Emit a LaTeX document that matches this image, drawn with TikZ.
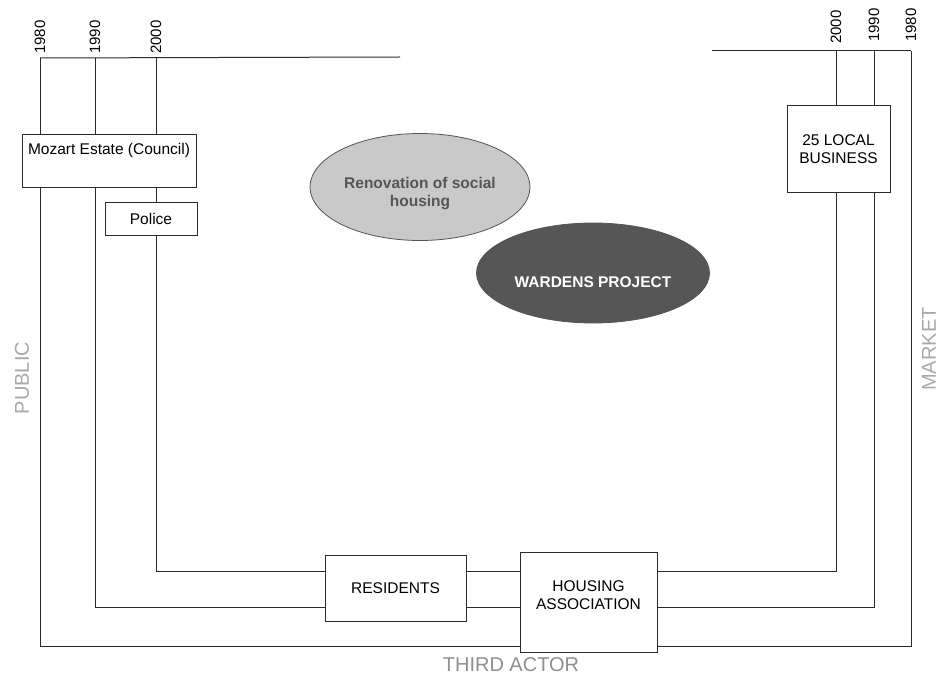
\documentclass[tikz,border=0pt]{standalone}
\usepackage{fontspec}
\setmainfont{Liberation Sans}
\usetikzlibrary{shapes.geometric}
\definecolor{inkline}{HTML}{2A2A2A}
\definecolor{lightfill}{HTML}{C9C9C9}
\definecolor{darkfill}{HTML}{565656}
\definecolor{sectorgray}{HTML}{A8A8A8}
\definecolor{ovaltext}{HTML}{555555}
\tikzset{
  link/.style={draw=inkline, line width=1pt},
  actor/.style={draw=inkline, line width=1pt, fill=white, align=center, inner sep=0pt,
    font=\fontsize{15.5}{18}\selectfont},
  year/.style={rotate=90, anchor=west, inner sep=0pt, font=\fontsize{15}{17}\selectfont},
  sector/.style={text=sectorgray, inner sep=0pt, font=\fontsize{20}{22}\selectfont},
  project/.style={ellipse, draw=inkline!80, line width=0.8pt, inner sep=0pt},
  projtext/.style={align=center, inner sep=0pt, font=\bfseries\fontsize{15.5}{18}\selectfont}
}
\begin{document}
\begin{tikzpicture}[x=1pt,y=-1pt]
\useasboundingbox (0,0) rectangle (942,679);

% horizontal levels of the three periods
\coordinate (y00) at (0,571);
\coordinate (y90) at (0,607);
\coordinate (y80) at (0,646);

% top ends of the time lines
\coordinate (L80) at (40,58);
\coordinate (L90) at (95,58);
\coordinate (L00) at (156,58);
\coordinate (Lend) at (400,57);
\coordinate (R00) at (836,51);
\coordinate (R90) at (874,51);
\coordinate (R80) at (911,51);
\coordinate (Rstart) at (712,51);

% year labels
\node[year] (yl80) at (L80 |- 0,54) {1980};
\node[year] (yl90) at (L90 |- 0,54) {1990};
\node[year] (yl00) at (L00 |- 0,54) {2000};
\node[year] (yr00) at (R00 |- 0,44) {2000};
\node[year] (yr90) at (R90 |- 0,42) {1990};
\node[year] (yr80) at (R80 |- 0,42) {1980};

% actors
\node[actor, minimum width=174pt, minimum height=53pt,
  label={[anchor=north, inner sep=0pt, yshift=-9pt, font=\fontsize{15.5}{18}\selectfont]north:Mozart Estate (Council)}]
  (moz) at (109,161.5) {};
\node[actor, minimum width=92pt, minimum height=32pt] (police) at (151,219) {Police};
\node[actor, minimum width=103pt, minimum height=87pt] (biz) at (838.5,149.5) {25 LOCAL\\BUSINESS};
\node[actor, minimum width=141pt, minimum height=66pt] (res) at (395.5,588) {RESIDENTS};
\node[actor, minimum width=137pt, minimum height=100pt, text depth=14pt] (hous) at (588.5,602) {HOUSING\\ASSOCIATION};

% projects
\node[project, fill=lightfill, minimum width=220pt, minimum height=107pt] (renov) at (420,187) {};
\node[projtext, text=ovaltext] (renovtxt) at ([yshift=-7pt]renov.center) {Renovation of social\\housing};
\node[project, fill=darkfill, minimum width=233pt, minimum height=100pt] (wardens) at (593,273) {};
\node[projtext, text=white] (wardenstxt) at ([yshift=-9pt]wardens.center) {WARDENS PROJECT};

% public side
\draw[link] (L80) -- (Lend);
\draw[link] (L80) -- (L80 |- moz.north);
\draw[link] (L90) -- (L90 |- moz.north);
\draw[link] (L00) -- (L00 |- moz.north);
\draw[link] (L00 |- moz.south) -- (L00 |- police.north);
\draw[link] (L00 |- police.south) -- (L00 |- y00) -- (res.west |- y00);
\draw[link] (L90 |- moz.south) -- (L90 |- y90) -- (res.west |- y90);
\draw[link] (L80 |- moz.south) -- (L80 |- y80) -- (hous.west |- y80);

% between residents and housing association
\draw[link] (res.east |- y00) -- (hous.west |- y00);
\draw[link] (res.east |- y90) -- (hous.west |- y90);

% market side
\draw[link] (Rstart) -- (R80);
\draw[link] (R00) -- (R00 |- biz.north);
\draw[link] (R90) -- (R90 |- biz.north);
\draw[link] (hous.east |- y00) -- (R00 |- y00) -- (R00 |- biz.south);
\draw[link] (hous.east |- y90) -- (R90 |- y90) -- (R90 |- biz.south);
\draw[link] (hous.east |- y80) -- (R80 |- y80) -- (R80);

% sectors
\node[sector, rotate=90] (public) at (22,378) {PUBLIC};
\node[sector, rotate=90] (market) at (929,349) {MARKET};
\node[sector, text=sectorgray!85!black] (third) at (511,665) {THIRD ACTOR};
\end{tikzpicture}
\end{document}
